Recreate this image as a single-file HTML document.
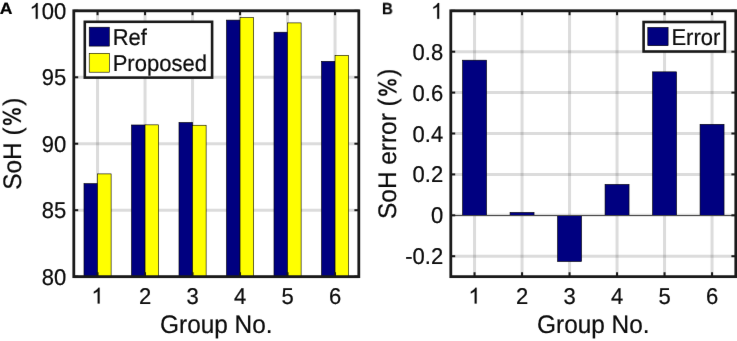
<!DOCTYPE html>
<html><head><meta charset="utf-8"><style>
html,body{margin:0;padding:0;background:#fff;}
body{width:737px;height:341px;overflow:hidden;}
svg{display:block;}
text{font-family:"Liberation Sans",sans-serif;fill:#0d0d0d;text-rendering:geometricPrecision;stroke:#0d0d0d;stroke-width:0.22px;}
.g{fill:#0d0d0d;stroke:#0d0d0d;stroke-width:20px;}
.h{fill:none;stroke:none;}
#wrap{will-change:transform;}
</style></head><body>
<div id="wrap"><svg width="737" height="341" viewBox="0 0 737 341">
<defs><filter id="bl" x="0" y="0" width="737" height="341" filterUnits="userSpaceOnUse" primitiveUnits="userSpaceOnUse" color-interpolation-filters="sRGB"><feConvolveMatrix order="3" kernelMatrix="0.00163 0.03713 0.00163 0.03713 0.84497 0.03713 0.00163 0.03713 0.00163" edgeMode="duplicate" preserveAlpha="true"/></filter><clipPath id="cl"><rect x="73.8" y="10.8" width="285.0" height="265.84999999999997"/></clipPath></defs>
<g filter="url(#bl)"><rect width="737" height="341" fill="#fff"/>
<line x1="97.55" y1="10.8" x2="97.55" y2="276.65" stroke="rgba(38,38,38,0.16)" stroke-width="3.0"/>
<line x1="145.05" y1="10.8" x2="145.05" y2="276.65" stroke="rgba(38,38,38,0.16)" stroke-width="3.0"/>
<line x1="192.55" y1="10.8" x2="192.55" y2="276.65" stroke="rgba(38,38,38,0.16)" stroke-width="3.0"/>
<line x1="240.05" y1="10.8" x2="240.05" y2="276.65" stroke="rgba(38,38,38,0.16)" stroke-width="3.0"/>
<line x1="287.55" y1="10.8" x2="287.55" y2="276.65" stroke="rgba(38,38,38,0.16)" stroke-width="3.0"/>
<line x1="335.05" y1="10.8" x2="335.05" y2="276.65" stroke="rgba(38,38,38,0.16)" stroke-width="3.0"/>
<line x1="73.8" y1="276.65" x2="358.8" y2="276.65" stroke="rgba(38,38,38,0.16)" stroke-width="3.0"/>
<line x1="73.8" y1="210.19" x2="358.8" y2="210.19" stroke="rgba(38,38,38,0.16)" stroke-width="3.0"/>
<line x1="73.8" y1="143.72" x2="358.8" y2="143.72" stroke="rgba(38,38,38,0.16)" stroke-width="3.0"/>
<line x1="73.8" y1="77.26" x2="358.8" y2="77.26" stroke="rgba(38,38,38,0.16)" stroke-width="3.0"/>
<line x1="73.8" y1="10.80" x2="358.8" y2="10.80" stroke="rgba(38,38,38,0.16)" stroke-width="3.0"/>
<g clip-path="url(#cl)">
<rect x="83.98" y="183.60" width="13.57" height="98.05" fill="#000080" stroke="#000" stroke-width="0.6"/>
<rect x="97.55" y="173.90" width="13.57" height="107.75" fill="#ffff00" stroke="#000" stroke-width="0.6"/>
<rect x="131.48" y="124.98" width="13.57" height="156.67" fill="#000080" stroke="#000" stroke-width="0.6"/>
<rect x="145.05" y="124.85" width="13.57" height="156.80" fill="#ffff00" stroke="#000" stroke-width="0.6"/>
<rect x="178.98" y="122.46" width="13.57" height="159.19" fill="#000080" stroke="#000" stroke-width="0.6"/>
<rect x="192.55" y="125.25" width="13.57" height="156.40" fill="#ffff00" stroke="#000" stroke-width="0.6"/>
<rect x="226.48" y="20.10" width="13.57" height="261.55" fill="#000080" stroke="#000" stroke-width="0.6"/>
<rect x="240.05" y="17.58" width="13.57" height="264.07" fill="#ffff00" stroke="#000" stroke-width="0.6"/>
<rect x="273.98" y="32.20" width="13.57" height="249.45" fill="#000080" stroke="#000" stroke-width="0.6"/>
<rect x="287.55" y="22.90" width="13.57" height="258.75" fill="#ffff00" stroke="#000" stroke-width="0.6"/>
<rect x="321.48" y="61.31" width="13.57" height="220.34" fill="#000080" stroke="#000" stroke-width="0.6"/>
<rect x="335.05" y="55.33" width="13.57" height="226.32" fill="#ffff00" stroke="#000" stroke-width="0.6"/>
</g>
<line x1="97.55" y1="10.8" x2="97.55" y2="15.200000000000001" stroke="#1a1a1a" stroke-width="2"/>
<line x1="97.55" y1="276.65" x2="97.55" y2="272.25" stroke="#1a1a1a" stroke-width="2"/>
<line x1="145.05" y1="10.8" x2="145.05" y2="15.200000000000001" stroke="#1a1a1a" stroke-width="2"/>
<line x1="145.05" y1="276.65" x2="145.05" y2="272.25" stroke="#1a1a1a" stroke-width="2"/>
<line x1="192.55" y1="10.8" x2="192.55" y2="15.200000000000001" stroke="#1a1a1a" stroke-width="2"/>
<line x1="192.55" y1="276.65" x2="192.55" y2="272.25" stroke="#1a1a1a" stroke-width="2"/>
<line x1="240.05" y1="10.8" x2="240.05" y2="15.200000000000001" stroke="#1a1a1a" stroke-width="2"/>
<line x1="240.05" y1="276.65" x2="240.05" y2="272.25" stroke="#1a1a1a" stroke-width="2"/>
<line x1="287.55" y1="10.8" x2="287.55" y2="15.200000000000001" stroke="#1a1a1a" stroke-width="2"/>
<line x1="287.55" y1="276.65" x2="287.55" y2="272.25" stroke="#1a1a1a" stroke-width="2"/>
<line x1="335.05" y1="10.8" x2="335.05" y2="15.200000000000001" stroke="#1a1a1a" stroke-width="2"/>
<line x1="335.05" y1="276.65" x2="335.05" y2="272.25" stroke="#1a1a1a" stroke-width="2"/>
<line x1="73.8" y1="276.65" x2="78.2" y2="276.65" stroke="#1a1a1a" stroke-width="2"/>
<line x1="358.8" y1="276.65" x2="354.40000000000003" y2="276.65" stroke="#1a1a1a" stroke-width="2"/>
<line x1="73.8" y1="210.19" x2="78.2" y2="210.19" stroke="#1a1a1a" stroke-width="2"/>
<line x1="358.8" y1="210.19" x2="354.40000000000003" y2="210.19" stroke="#1a1a1a" stroke-width="2"/>
<line x1="73.8" y1="143.72" x2="78.2" y2="143.72" stroke="#1a1a1a" stroke-width="2"/>
<line x1="358.8" y1="143.72" x2="354.40000000000003" y2="143.72" stroke="#1a1a1a" stroke-width="2"/>
<line x1="73.8" y1="77.26" x2="78.2" y2="77.26" stroke="#1a1a1a" stroke-width="2"/>
<line x1="358.8" y1="77.26" x2="354.40000000000003" y2="77.26" stroke="#1a1a1a" stroke-width="2"/>
<line x1="73.8" y1="10.80" x2="78.2" y2="10.80" stroke="#1a1a1a" stroke-width="2"/>
<line x1="358.8" y1="10.80" x2="354.40000000000003" y2="10.80" stroke="#1a1a1a" stroke-width="2"/>
<rect x="73.8" y="10.8" width="285.0" height="265.84999999999997" fill="none" stroke="#1a1a1a" stroke-width="2.8"/>
<g transform="translate(66.20,284.70) scale(1,1.04)"><text x="-24.47" y="0" font-size="22">80</text></g>
<g transform="translate(66.20,218.24) scale(1,1.04)"><text x="-24.47" y="0" font-size="22">85</text></g>
<g transform="translate(66.20,151.78) scale(1,1.04)"><text x="-24.47" y="0" font-size="22">90</text></g>
<g transform="translate(66.20,85.31) scale(1,1.04)"><text x="-24.47" y="0" font-size="22">95</text></g>
<g transform="translate(66.20,18.85) scale(1,1.04)"><text x="-36.71" y="0" font-size="22"><tspan class="h">1</tspan>00</text><path class="g" fill-rule="evenodd" transform="translate(-36.71,0) scale(0.01074,-0.01033)" d="M763 0L583 0L583 1147Q518 1085 412.5 1023Q307 961 223 930L223 1104Q374 1175 487 1276Q600 1377 647 1472L763 1472Z"/></g>
<g transform="translate(97.55,303.50) scale(1,1.04)"><text x="-6.12" y="0" font-size="22"><tspan class="h">1</tspan></text><path class="g" fill-rule="evenodd" transform="translate(-6.12,0) scale(0.01074,-0.01033)" d="M763 0L583 0L583 1147Q518 1085 412.5 1023Q307 961 223 930L223 1104Q374 1175 487 1276Q600 1377 647 1472L763 1472Z"/></g>
<g transform="translate(145.05,303.50) scale(1,1.04)"><text x="-6.12" y="0" font-size="22">2</text></g>
<g transform="translate(192.55,303.50) scale(1,1.04)"><text x="-6.12" y="0" font-size="22">3</text></g>
<g transform="translate(240.05,303.50) scale(1,1.04)"><text x="-6.12" y="0" font-size="22">4</text></g>
<g transform="translate(287.55,303.50) scale(1,1.04)"><text x="-6.12" y="0" font-size="22">5</text></g>
<g transform="translate(335.05,303.50) scale(1,1.04)"><text x="-6.12" y="0" font-size="22">6</text></g>
<g transform="translate(216.30,333.00) scale(1,1.04)"><text x="-56.28" y="0" font-size="24.4">Group No.</text></g>
<g transform="translate(20.60,143.72) rotate(-90) scale(1,1.04)"><text x="-46.10" y="0" font-size="24.4">SoH (<tspan class="h">%</tspan>)</text><path class="g" fill-rule="evenodd" transform="translate(16.27,0) scale(0.01191,-0.01146)" d="M214 1110A268 368 0 1 0 750 1110A268 368 0 1 0 214 1110ZM354 1110A128 228 0 1 0 610 1110A128 228 0 1 0 354 1110ZM1072 350A268 368 0 1 0 1608 350A268 368 0 1 0 1072 350ZM1212 350A128 228 0 1 0 1468 350A128 228 0 1 0 1212 350ZM425 -20L585 -20L1395 1500L1235 1500Z"/></g>
<line x1="474.55" y1="10.8" x2="474.55" y2="276.65" stroke="rgba(38,38,38,0.16)" stroke-width="3.0"/>
<line x1="522.05" y1="10.8" x2="522.05" y2="276.65" stroke="rgba(38,38,38,0.16)" stroke-width="3.0"/>
<line x1="569.55" y1="10.8" x2="569.55" y2="276.65" stroke="rgba(38,38,38,0.16)" stroke-width="3.0"/>
<line x1="617.05" y1="10.8" x2="617.05" y2="276.65" stroke="rgba(38,38,38,0.16)" stroke-width="3.0"/>
<line x1="664.55" y1="10.8" x2="664.55" y2="276.65" stroke="rgba(38,38,38,0.16)" stroke-width="3.0"/>
<line x1="712.05" y1="10.8" x2="712.05" y2="276.65" stroke="rgba(38,38,38,0.16)" stroke-width="3.0"/>
<line x1="450.8" y1="256.20" x2="735.8" y2="256.20" stroke="rgba(38,38,38,0.16)" stroke-width="3.0"/>
<line x1="450.8" y1="215.30" x2="735.8" y2="215.30" stroke="rgba(38,38,38,0.16)" stroke-width="3.0"/>
<line x1="450.8" y1="174.40" x2="735.8" y2="174.40" stroke="rgba(38,38,38,0.16)" stroke-width="3.0"/>
<line x1="450.8" y1="133.50" x2="735.8" y2="133.50" stroke="rgba(38,38,38,0.16)" stroke-width="3.0"/>
<line x1="450.8" y1="92.60" x2="735.8" y2="92.60" stroke="rgba(38,38,38,0.16)" stroke-width="3.0"/>
<line x1="450.8" y1="51.70" x2="735.8" y2="51.70" stroke="rgba(38,38,38,0.16)" stroke-width="3.0"/>
<line x1="450.8" y1="10.80" x2="735.8" y2="10.80" stroke="rgba(38,38,38,0.16)" stroke-width="3.0"/>
<rect x="462.55" y="60.19" width="24.00" height="155.11" fill="#000080" stroke="#000" stroke-width="0.6"/>
<rect x="510.05" y="212.44" width="24.00" height="2.86" fill="#000080" stroke="#000" stroke-width="0.6"/>
<rect x="557.55" y="215.30" width="24.00" height="46.22" fill="#000080" stroke="#000" stroke-width="0.6"/>
<rect x="605.05" y="184.42" width="24.00" height="30.88" fill="#000080" stroke="#000" stroke-width="0.6"/>
<rect x="652.55" y="71.84" width="24.00" height="143.46" fill="#000080" stroke="#000" stroke-width="0.6"/>
<rect x="700.05" y="124.30" width="24.00" height="91.00" fill="#000080" stroke="#000" stroke-width="0.6"/>
<line x1="450.8" y1="215.52" x2="735.8" y2="215.52" stroke="#4a4a4a" stroke-width="1.1"/>
<line x1="474.55" y1="10.8" x2="474.55" y2="15.200000000000001" stroke="#1a1a1a" stroke-width="2"/>
<line x1="474.55" y1="276.65" x2="474.55" y2="272.25" stroke="#1a1a1a" stroke-width="2"/>
<line x1="522.05" y1="10.8" x2="522.05" y2="15.200000000000001" stroke="#1a1a1a" stroke-width="2"/>
<line x1="522.05" y1="276.65" x2="522.05" y2="272.25" stroke="#1a1a1a" stroke-width="2"/>
<line x1="569.55" y1="10.8" x2="569.55" y2="15.200000000000001" stroke="#1a1a1a" stroke-width="2"/>
<line x1="569.55" y1="276.65" x2="569.55" y2="272.25" stroke="#1a1a1a" stroke-width="2"/>
<line x1="617.05" y1="10.8" x2="617.05" y2="15.200000000000001" stroke="#1a1a1a" stroke-width="2"/>
<line x1="617.05" y1="276.65" x2="617.05" y2="272.25" stroke="#1a1a1a" stroke-width="2"/>
<line x1="664.55" y1="10.8" x2="664.55" y2="15.200000000000001" stroke="#1a1a1a" stroke-width="2"/>
<line x1="664.55" y1="276.65" x2="664.55" y2="272.25" stroke="#1a1a1a" stroke-width="2"/>
<line x1="712.05" y1="10.8" x2="712.05" y2="15.200000000000001" stroke="#1a1a1a" stroke-width="2"/>
<line x1="712.05" y1="276.65" x2="712.05" y2="272.25" stroke="#1a1a1a" stroke-width="2"/>
<line x1="450.8" y1="256.20" x2="455.2" y2="256.20" stroke="#1a1a1a" stroke-width="2"/>
<line x1="735.8" y1="256.20" x2="731.4" y2="256.20" stroke="#1a1a1a" stroke-width="2"/>
<line x1="450.8" y1="215.30" x2="455.2" y2="215.30" stroke="#1a1a1a" stroke-width="2"/>
<line x1="735.8" y1="215.30" x2="731.4" y2="215.30" stroke="#1a1a1a" stroke-width="2"/>
<line x1="450.8" y1="174.40" x2="455.2" y2="174.40" stroke="#1a1a1a" stroke-width="2"/>
<line x1="735.8" y1="174.40" x2="731.4" y2="174.40" stroke="#1a1a1a" stroke-width="2"/>
<line x1="450.8" y1="133.50" x2="455.2" y2="133.50" stroke="#1a1a1a" stroke-width="2"/>
<line x1="735.8" y1="133.50" x2="731.4" y2="133.50" stroke="#1a1a1a" stroke-width="2"/>
<line x1="450.8" y1="92.60" x2="455.2" y2="92.60" stroke="#1a1a1a" stroke-width="2"/>
<line x1="735.8" y1="92.60" x2="731.4" y2="92.60" stroke="#1a1a1a" stroke-width="2"/>
<line x1="450.8" y1="51.70" x2="455.2" y2="51.70" stroke="#1a1a1a" stroke-width="2"/>
<line x1="735.8" y1="51.70" x2="731.4" y2="51.70" stroke="#1a1a1a" stroke-width="2"/>
<line x1="450.8" y1="10.80" x2="455.2" y2="10.80" stroke="#1a1a1a" stroke-width="2"/>
<line x1="735.8" y1="10.80" x2="731.4" y2="10.80" stroke="#1a1a1a" stroke-width="2"/>
<rect x="450.8" y="10.8" width="285.0" height="265.84999999999997" fill="none" stroke="#1a1a1a" stroke-width="2.8"/>
<g transform="translate(443.20,264.25) scale(1,1.04)"><text x="-37.91" y="0" font-size="22">-0.2</text></g>
<g transform="translate(443.20,223.35) scale(1,1.04)"><text x="-12.24" y="0" font-size="22">0</text></g>
<g transform="translate(443.20,182.45) scale(1,1.04)"><text x="-30.58" y="0" font-size="22">0.2</text></g>
<g transform="translate(443.20,141.55) scale(1,1.04)"><text x="-30.58" y="0" font-size="22">0.4</text></g>
<g transform="translate(443.20,100.65) scale(1,1.04)"><text x="-30.58" y="0" font-size="22">0.6</text></g>
<g transform="translate(443.20,59.75) scale(1,1.04)"><text x="-30.58" y="0" font-size="22">0.8</text></g>
<g transform="translate(443.20,18.85) scale(1,1.04)"><text x="-12.24" y="0" font-size="22"><tspan class="h">1</tspan></text><path class="g" fill-rule="evenodd" transform="translate(-12.24,0) scale(0.01074,-0.01033)" d="M763 0L583 0L583 1147Q518 1085 412.5 1023Q307 961 223 930L223 1104Q374 1175 487 1276Q600 1377 647 1472L763 1472Z"/></g>
<g transform="translate(474.55,303.50) scale(1,1.04)"><text x="-6.12" y="0" font-size="22"><tspan class="h">1</tspan></text><path class="g" fill-rule="evenodd" transform="translate(-6.12,0) scale(0.01074,-0.01033)" d="M763 0L583 0L583 1147Q518 1085 412.5 1023Q307 961 223 930L223 1104Q374 1175 487 1276Q600 1377 647 1472L763 1472Z"/></g>
<g transform="translate(522.05,303.50) scale(1,1.04)"><text x="-6.12" y="0" font-size="22">2</text></g>
<g transform="translate(569.55,303.50) scale(1,1.04)"><text x="-6.12" y="0" font-size="22">3</text></g>
<g transform="translate(617.05,303.50) scale(1,1.04)"><text x="-6.12" y="0" font-size="22">4</text></g>
<g transform="translate(664.55,303.50) scale(1,1.04)"><text x="-6.12" y="0" font-size="22">5</text></g>
<g transform="translate(712.05,303.50) scale(1,1.04)"><text x="-6.12" y="0" font-size="22">6</text></g>
<g transform="translate(593.30,333.00) scale(1,1.04)"><text x="-56.28" y="0" font-size="24.4">Group No.</text></g>
<g transform="translate(396.20,143.72) rotate(-90) scale(1,1.04)"><text x="-75.24" y="0" font-size="24.4">SoH error (<tspan class="h">%</tspan>)</text><path class="g" fill-rule="evenodd" transform="translate(45.42,0) scale(0.01191,-0.01146)" d="M214 1110A268 368 0 1 0 750 1110A268 368 0 1 0 214 1110ZM354 1110A128 228 0 1 0 610 1110A128 228 0 1 0 354 1110ZM1072 350A268 368 0 1 0 1608 350A268 368 0 1 0 1072 350ZM1212 350A128 228 0 1 0 1468 350A128 228 0 1 0 1212 350ZM425 -20L585 -20L1395 1500L1235 1500Z"/></g>
<rect x="84.8" y="21.8" width="127.30" height="55.80" fill="#fff" stroke="#1a1a1a" stroke-width="2.6"/>
<rect x="89.2" y="27.2" width="20.1" height="18.9" fill="#000080" stroke="#000" stroke-width="0.6"/>
<rect x="89.2" y="53.3" width="20.1" height="18.9" fill="#ffff00" stroke="#000" stroke-width="0.6"/>
<g transform="translate(112.70,44.50) scale(1,1.04)"><text x="0.00" y="0" font-size="22">Ref</text></g>
<g transform="translate(112.70,70.50) scale(1,1.04)"><text x="0.00" y="0" font-size="22">Proposed</text></g>
<rect x="643.6" y="22" width="81.30" height="29.5" fill="#fff" stroke="#1a1a1a" stroke-width="2.6"/>
<rect x="647.8" y="27.4" width="20.3" height="18.3" fill="#000080" stroke="#000" stroke-width="0.6"/>
<g transform="translate(671.40,44.50) scale(1,1.04)"><text x="0.00" y="0" font-size="22">Error</text></g>
<g transform="translate(-0.3,13.8) scale(1.13,1.04)"><text x="0" y="0" font-size="15.6" font-weight="bold" style="fill:#000">A</text></g>
<g transform="translate(381.9,13.8) scale(0.97,1.04)"><text x="0" y="0" font-size="15.6" font-weight="bold" style="fill:#000;stroke:#000;stroke-width:0.1px">B</text></g></g>
</svg></div>
</body></html>
